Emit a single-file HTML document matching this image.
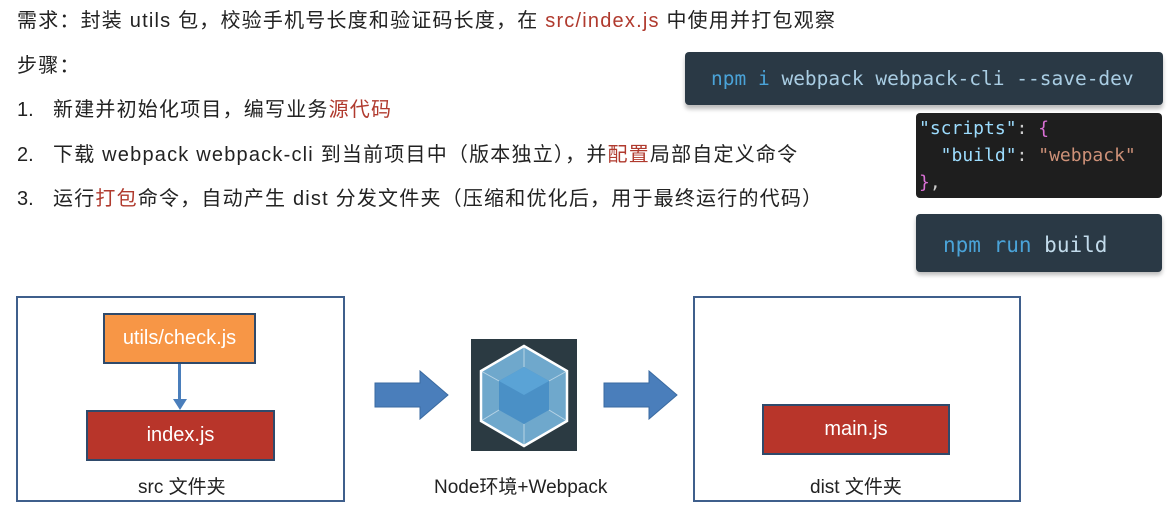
<!DOCTYPE html>
<html><head><meta charset="utf-8"><style>
body{margin:0;width:1171px;height:509px;background:#fff;position:relative;overflow:hidden;font-family:"Liberation Sans","Noto Sans CJK SC",sans-serif;color:#222}
.a{position:absolute;white-space:nowrap}
.t{font-size:20px;letter-spacing:1.2px;line-height:26px}
.num{display:inline-block;width:36px;letter-spacing:0}
.r{color:#b03a2e}
.code{position:absolute;font-family:"DejaVu Sans Mono","Liberation Mono",monospace;border-radius:4px}
.box{position:absolute;border:2px solid #3f5f8c;box-sizing:border-box}
.n{position:absolute;box-sizing:border-box;border:2px solid #2f4a6b;color:#fff;font-size:20px;display:flex;align-items:center;justify-content:center}
</style></head><body>
<div class="a t" style="left:17px;top:8px">需求：封装 utils 包，校验手机号长度和验证码长度，在 <span class="r">src/index.js</span> 中使用并打包观察</div>
<div class="a t" style="left:17px;top:53px">步骤：</div>
<div class="a t" style="left:17px;top:97px"><span class="num">1.</span>新建并初始化项目，编写业务<span class="r">源代码</span></div>
<div class="a t" style="left:17px;top:142px"><span class="num">2.</span>下载 webpack webpack-cli 到当前项目中（版本独立），并<span class="r">配置</span>局部自定义命令</div>
<div class="a t" style="left:17px;top:186px"><span class="num">3.</span>运行<span class="r">打包</span>命令，自动产生 dist 分发文件夹（压缩和优化后，用于最终运行的代码）</div>

<div class="code" style="left:685px;top:52px;width:478px;height:53px;background:#2a3945;box-shadow:0 4px 4px #bbb;font-size:19.5px;line-height:53px;padding-left:26px;box-sizing:border-box"><span style="color:#4aa3d8">npm i</span> <span style="color:#a9cde3">webpack webpack-cli --save-dev</span></div>
<div class="code" style="left:916px;top:113px;width:246px;height:85px;background:#1e1e1e;font-size:18px;line-height:27px;padding:2px 0 0 3px;box-sizing:border-box;color:#9cdcfe"><span style="color:#9cdcfe">"scripts"</span><span style="color:#ccc">: </span><span style="color:#da70d6">{</span><br>&nbsp;&nbsp;"build"<span style="color:#ccc">: </span><span style="color:#ce9178">"webpack"</span><br><span style="color:#da70d6">}</span><span style="color:#ccc">,</span></div>
<div class="code" style="left:916px;top:214px;width:246px;height:58px;background:#2a3945;box-shadow:0 3px 4px #bbb;font-size:21px;line-height:62px;padding-left:27px;box-sizing:border-box"><span style="color:#4aa3d8">npm run</span> <span style="color:#c2dbeb">build</span></div>

<div class="box" style="left:16px;top:296px;width:329px;height:206px"></div>
<div class="n" style="left:103px;top:313px;width:153px;height:51px;background:#f79646">utils/check.js</div>
<div style="position:absolute;left:178px;top:364px;width:3px;height:38px;background:#4a7ebb"></div>
<div style="position:absolute;left:173px;top:399px;width:0;height:0;border-left:7px solid transparent;border-right:7px solid transparent;border-top:11px solid #4a7ebb"></div>
<div class="n" style="left:86px;top:410px;width:189px;height:51px;background:#b8352a">index.js</div>
<div class="a" style="left:138px;top:472px;font-size:19px">src 文件夹</div>

<svg class="a" style="left:374px;top:370px" width="76" height="50"><polygon points="1,13 46,13 46,1 74,25 46,49 46,37 1,37" fill="#4a7ebb" stroke="#3a6aa0"/></svg>
<svg class="a" style="left:603px;top:370px" width="76" height="50"><polygon points="1,13 46,13 46,1 74,25 46,49 46,37 1,37" fill="#4a7ebb" stroke="#3a6aa0"/></svg>

<svg class="a" style="left:471px;top:339px" width="106" height="112" viewBox="0 0 106 112">
<rect width="106" height="112" fill="#2b3a42"/>
<polygon points="53,7 96,32 96,82 53,107 10,82 10,32" fill="#6fa8cc" stroke="#fff" stroke-width="2.5"/>
<polygon points="53,28 78,42 78,71 53,85 28,71 28,42" fill="#4a90c6"/>
<polygon points="53,28 78,42 53,56 28,42" fill="#5aa3d6"/>
<g stroke="#fff" stroke-width="1" opacity=".5"><line x1="53" y1="7" x2="53" y2="28"/><line x1="96" y1="32" x2="78" y2="42"/><line x1="10" y1="32" x2="28" y2="42"/><line x1="96" y1="82" x2="78" y2="71"/><line x1="10" y1="82" x2="28" y2="71"/><line x1="53" y1="107" x2="53" y2="85"/></g>
</svg>
<div class="a" style="left:434px;top:472px;font-size:19px">Node环境+Webpack</div>

<div class="box" style="left:693px;top:296px;width:328px;height:206px"></div>
<div class="n" style="left:762px;top:404px;width:188px;height:51px;background:#b8352a">main.js</div>
<div class="a" style="left:810px;top:472px;font-size:19px">dist 文件夹</div>
</body></html>
